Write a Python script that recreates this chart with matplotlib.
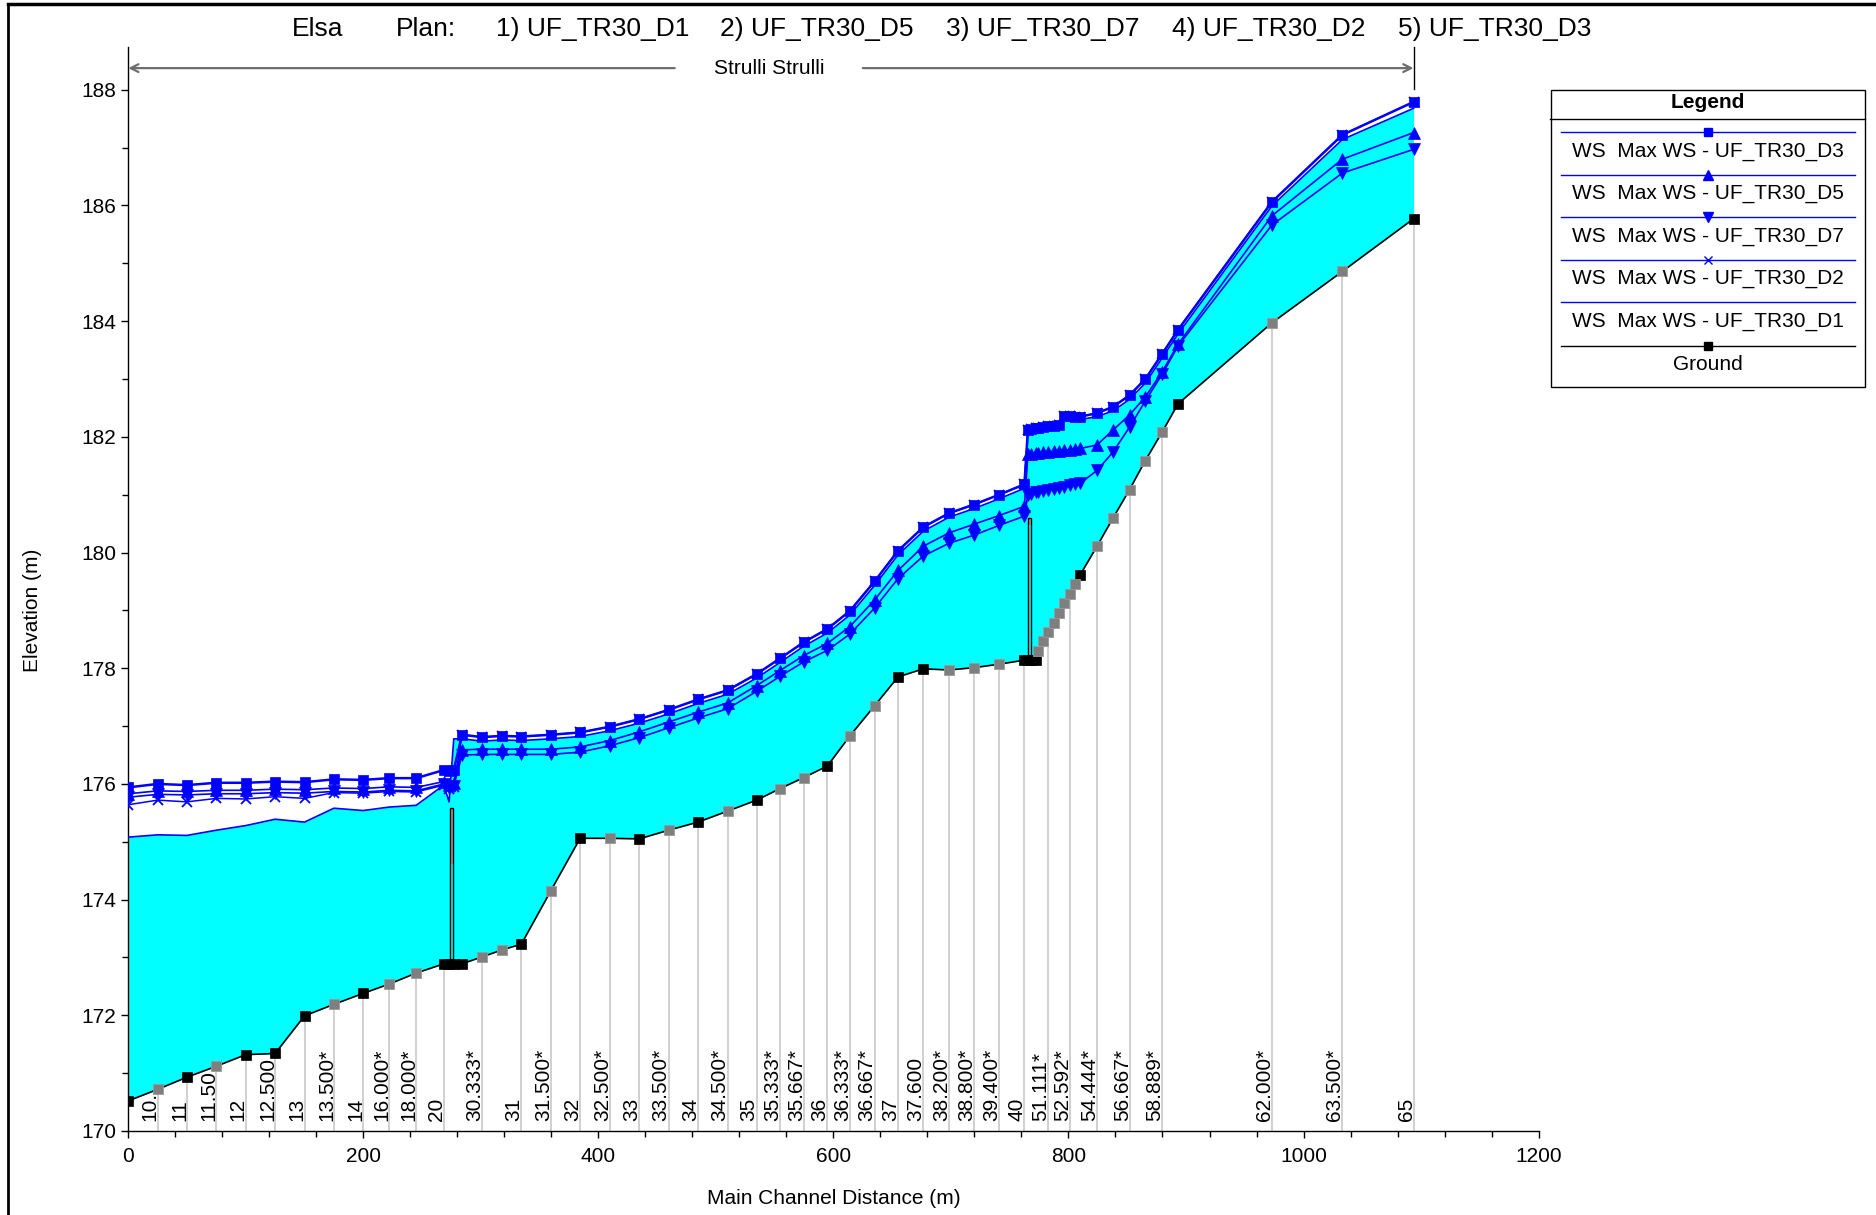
import numpy as np
import matplotlib
matplotlib.use("Agg")
import matplotlib.pyplot as plt
from matplotlib.patches import Rectangle
from matplotlib.lines import Line2D
from matplotlib.ticker import MultipleLocator

plt.rcParams['font.family'] = ['Liberation Sans', 'DejaVu Sans']

# ---------------- data ----------------
stations = [0, 25, 50, 75, 100, 125, 150, 175, 200, 222,
            245, 268.5, 273, 277, 284, 301, 318, 334.5, 359.5, 384.5,
            409.8, 434.8, 459.7, 484.8, 510, 534.7, 554.6, 574.8, 594.9, 614,
            635, 655, 676.5, 698.3, 719.6, 741, 762.5, 765.5, 768.5, 772,
            774, 778, 782.6, 787.4, 791.7, 796.5, 801, 805.6, 810.1, 824.3,
            838, 852, 865.4, 879.6, 893.2, 973, 1033, 1093.6]

ground = [170.52, 170.72, 170.93, 171.12, 171.32, 171.34, 171.99, 172.19, 172.38, 172.54,
          172.73, 172.89, 172.89, 172.89, 172.89, 173.01, 173.13, 173.23, 174.15, 175.06,
          175.06, 175.05, 175.20, 175.34, 175.53, 175.72, 175.92, 176.11, 176.31, 176.83,
          177.35, 177.85, 177.99, 177.97, 178.01, 178.07, 178.14, 178.14, 178.14, 178.14,
          178.30, 178.47, 178.63, 178.79, 178.96, 179.13, 179.29, 179.46, 179.62, 180.11,
          180.60, 181.09, 181.59, 182.08, 182.57, 183.97, 184.86, 185.77]

# 1 = surveyed cross section (black marker), 0 = interpolated (grey marker)
xs_surveyed = [1, 0, 1, 0, 1, 1, 1, 0, 1, 0,
               0, 1, 1, 1, 1, 0, 0, 1, 0, 1,
               0, 1, 0, 1, 0, 1, 0, 0, 1, 0,
               0, 1, 1, 0, 0, 0, 1, 1, 1, 1,
               0, 0, 0, 0, 0, 0, 0, 0, 1, 0,
               0, 0, 0, 0, 1, 0, 0, 1]

ws_d3 = [175.94, 176.00, 175.98, 176.02, 176.02, 176.04, 176.03, 176.08, 176.07, 176.10,
         176.10, 176.24, 176.23, 176.24, 176.85, 176.81, 176.83, 176.82, 176.85, 176.89,
         176.99, 177.12, 177.28, 177.46, 177.62, 177.90, 178.17, 178.45, 178.68, 178.99,
         179.50, 180.03, 180.44, 180.68, 180.83, 181.00, 181.18, 182.12, 182.14, 182.15,
         182.16, 182.17, 182.18, 182.19, 182.20, 182.36, 182.36, 182.35, 182.35, 182.41,
         182.52, 182.72, 183.00, 183.43, 183.85, 186.06, 187.22, 187.79]

ws_d5 = [175.83, 175.88, 175.87, 175.89, 175.89, 175.91, 175.90, 175.93, 175.92, 175.95,
         175.94, 176.04, 175.99, 176.02, 176.59, 176.60, 176.60, 176.60, 176.60, 176.64,
         176.75, 176.90, 177.07, 177.24, 177.40, 177.70, 177.96, 178.22, 178.43, 178.72,
         179.18, 179.69, 180.11, 180.34, 180.49, 180.64, 180.80, 181.70, 181.71, 181.72,
         181.72, 181.73, 181.74, 181.75, 181.76, 181.77, 181.78, 181.79, 181.80, 181.86,
         182.12, 182.38, 182.69, 183.12, 183.60, 185.82, 186.80, 187.26]

ws_d7 = [175.77, 175.82, 175.81, 175.83, 175.83, 175.85, 175.84, 175.87, 175.86, 175.89,
         175.88, 176.00, 175.93, 175.96, 176.50, 176.51, 176.51, 176.51, 176.51, 176.55,
         176.66, 176.80, 176.97, 177.14, 177.30, 177.60, 177.86, 178.11, 178.31, 178.59,
         179.04, 179.55, 179.94, 180.16, 180.30, 180.47, 180.63, 181.00, 181.02, 181.04,
         181.05, 181.07, 181.08, 181.10, 181.12, 181.14, 181.16, 181.18, 181.20, 181.42,
         181.74, 182.17, 182.62, 183.08, 183.57, 185.66, 186.56, 186.97]

ws_d2 = [175.64, 175.72, 175.69, 175.75, 175.74, 175.78, 175.75, 175.85, 175.84, 175.87,
         175.86, 175.98, 175.92, 175.95, 176.85, 176.81, 176.83, 176.82, 176.85, 176.89,
         176.99, 177.12, 177.28, 177.46, 177.62, 177.90, 178.17, 178.45, 178.68, 178.99,
         179.50, 180.03, 180.44, 180.68, 180.83, 181.00, 181.18, 182.12, 182.14, 182.15,
         182.16, 182.17, 182.18, 182.19, 182.20, 182.36, 182.36, 182.35, 182.35, 182.41,
         182.52, 182.72, 183.00, 183.43, 183.85, 186.06, 187.22, 187.79]

ws_d1 = [175.08, 175.12, 175.11, 175.20, 175.28, 175.39, 175.34, 175.58, 175.54, 175.60,
         175.63, 175.98, 175.69, 176.78, 176.78, 176.74, 176.76, 176.75, 176.78, 176.82,
         176.92, 177.05, 177.21, 177.39, 177.55, 177.83, 178.10, 178.38, 178.61, 178.92,
         179.43, 179.96, 180.37, 180.61, 180.76, 180.93, 181.11, 182.08, 182.10, 182.11,
         182.12, 182.13, 182.14, 182.15, 182.16, 182.31, 182.31, 182.30, 182.30, 182.35,
         182.45, 182.65, 182.93, 183.36, 183.78, 185.99, 187.14, 187.68]

label_text = ["10...", "11", "11.50..", "12", "12.500", "13", "13.500*", "14", "16.000*", "18.000*",
              "20", "30.333*", "31", "31.500*", "32", "32.500*", "33", "33.500*", "34", "34.500*",
              "35", "35.333*", "35.667*", "36", "36.333*", "36.667*", "37", "37.600", "38.200*", "38.800*",
              "39.400*", "40", "51.111*", "52.592*", "54.444*", "56.667*", "58.889*", "62.000*", "63.500*", "65"]
label_x = [25, 50, 75, 100, 125, 150, 175, 200, 222, 245,
           268.5, 301, 334.5, 359.5, 384.5, 409.8, 434.8, 459.7, 484.8, 510,
           534.7, 554.6, 574.8, 594.9, 614, 635, 655, 676.5, 698.3, 719.6,
           741, 762.5, 782.6, 801, 824.3, 852, 879.6, 973, 1033, 1093.6]

# bridge / culvert structures: left, right, deck bottom, top of deck
bridge_left = [273.8, 765.6]
bridge_right = [276.4, 768.5]
bridge_deck_low = [174.62, 180.47]
bridge_top = [175.59, 180.59]

title_parts = ["Elsa", "Plan:", "1) UF_TR30_D1", "2) UF_TR30_D5", "3) UF_TR30_D7",
               "4) UF_TR30_D2", "5) UF_TR30_D3"]
title_centers_px = [317.5, 426, 592.5, 817, 1043, 1268.5, 1494.5]

legend_labels = ["WS  Max WS - UF_TR30_D3", "WS  Max WS - UF_TR30_D5", "WS  Max WS - UF_TR30_D7",
                 "WS  Max WS - UF_TR30_D2", "WS  Max WS - UF_TR30_D1", "Ground"]
reach_name = "Strulli Strulli"

# ---------------- figure ----------------
W, H, DPI = 1876, 1215, 100
fig = plt.figure(figsize=(W / DPI, H / DPI), dpi=DPI)
fig.patch.set_facecolor('white')

def fx(px):
    return px / W

def fy(py):
    return 1 - py / H

AX_L, AX_R, AX_B, AX_T = 128.2, 1538.6, 1131.0, 47.0
ax = fig.add_axes([fx(AX_L), fy(AX_B), (AX_R - AX_L) / W, (AX_B - AX_T) / H])
YMIN, YMAX = 170, 188.74
ax.set_xlim(0, 1200)
ax.set_ylim(YMIN, YMAX)

st = np.array(stations)
gr = np.array(ground)
surv = np.array(xs_surveyed).astype(bool)
BLUE = '#0000FF'

# water fill (first plan)
ax.fill_between(st, gr, ws_d1, color='#00FFFF', lw=0, zorder=1)

# station lines
lx = np.array(label_x)
ax.vlines(lx, YMIN, np.interp(lx, st, gr), color='#D0D0D0', lw=1.4, zorder=0.8)

for t, x in zip(label_text, label_x):
    ax.annotate(t, xy=(x, YMIN), xytext=(1.5, 7.5), textcoords='offset points',
                rotation=90, ha='right', va='bottom', fontsize=15, color='black', zorder=2)

# bridges
for l, r, dl, tp, g in zip(bridge_left, bridge_right, bridge_deck_low, bridge_top,
                           np.interp(bridge_left, st, gr)):
    ax.add_patch(Rectangle((l, dl), r - l, tp - dl, facecolor='#A0A0A0', edgecolor='none', zorder=2))
    ax.add_patch(Rectangle((l, g), r - l, tp - g, facecolor='none', edgecolor='black', lw=1.0, zorder=2.1))

# water surfaces
ax.plot(st, ws_d1, color=BLUE, lw=1.2, zorder=3)
ax.plot(st, ws_d2, color=BLUE, lw=1.1, marker='x', ms=7.5, mew=1.3, zorder=4)
ax.plot(st, ws_d7, color=BLUE, lw=1.2, marker='v', ms=8.3, mew=0.5, zorder=5)
ax.plot(st, ws_d5, color=BLUE, lw=1.2, marker='^', ms=8.3, mew=0.5, zorder=6)
ax.plot(st, ws_d3, color=BLUE, lw=1.8, marker='s', ms=7.5, mew=0.5, zorder=7)

# ground
ax.plot(st, gr, color='black', lw=1.2, zorder=8)
ax.plot(st[surv], gr[surv], ls='none', marker='s', ms=7.2, color='black', mew=0.5, zorder=9)
ax.plot(st[~surv], gr[~surv], ls='none', marker='s', ms=7.2, color='#7F7F7F',
        mec='#9A9A9A', mew=0.6, zorder=9)

# axes styling
for s in ['top', 'right']:
    ax.spines[s].set_visible(False)
for s in ['left', 'bottom']:
    ax.spines[s].set_linewidth(1.0)
ax.xaxis.set_major_locator(MultipleLocator(200))
ax.xaxis.set_minor_locator(MultipleLocator(40))
ax.yaxis.set_major_locator(MultipleLocator(2))
ax.yaxis.set_minor_locator(MultipleLocator(1))
ax.tick_params(which='major', direction='out', length=5, width=1, labelsize=15)
ax.tick_params(which='minor', direction='out', length=4, width=1)
ax.tick_params(axis='x', which='major', pad=6.5)
ax.tick_params(axis='y', which='major', pad=3.5)

fig.text(fx(834), fy(1198), "Main Channel Distance (m)", ha='center', va='center', fontsize=15)
fig.text(fx(32), fy(610), "Elevation (m)", ha='center', va='center', rotation=90, fontsize=15)

# title
for t, c in zip(title_parts, title_centers_px):
    fig.text(fx(c), fy(29), t, ha='center', va='center', fontsize=19)

# reach arrow
y_r = 188.375
reach_mid = 545
gap = 80
ax.annotate('', xy=(stations[0], y_r), xytext=(reach_mid - gap, y_r),
            arrowprops=dict(arrowstyle='->', color='#6E6E6E', lw=1.6, shrinkA=0, shrinkB=0,
                            mutation_scale=14), annotation_clip=False)
ax.annotate('', xy=(stations[-1], y_r), xytext=(reach_mid + gap, y_r),
            arrowprops=dict(arrowstyle='->', color='#6E6E6E', lw=1.6, shrinkA=0, shrinkB=0,
                            mutation_scale=14), annotation_clip=False)
ax.text(reach_mid, y_r, reach_name, ha='center', va='center', fontsize=15)
ax.plot([stations[-1], stations[-1]], [188.01, YMAX], color='black', lw=1.0, clip_on=False)

# legend (drawn manually)
LX0, LX1, LY0, LY1 = 1550, 1865, 89.3, 387.3
lax = fig.add_axes([fx(LX0), fy(LY1), (LX1 - LX0) / W, (LY1 - LY0) / H])
lax.set_xlim(LX0, LX1)
lax.set_ylim(LY1, LY0)
lax.axis('off')
lax.add_patch(Rectangle((LX0 + 0.5, LY0 + 0.5), LX1 - LX0 - 1, LY1 - LY0 - 1, fill=False,
                        edgecolor='black', lw=1.0, clip_on=False))
lax.plot([LX0, LX1], [119.3, 119.3], color='black', lw=1.0, clip_on=False)
lax.text(1708, 102.7, "Legend", ha='center', va='center', fontsize=15, fontweight='bold')
line_y = [131.7, 174.7, 217.3, 260.0, 302.3, 345.7]
text_y = [151.7, 193.3, 236.7, 279.0, 321.7, 364.0]
styles = [dict(color=BLUE, marker='s', ms=6),
          dict(color=BLUE, marker='^', ms=6.5),
          dict(color=BLUE, marker='v', ms=6.5),
          dict(color=BLUE, marker='x', ms=6, mew=1),
          dict(color=BLUE, marker=None),
          dict(color='black', marker='s', ms=6)]
for lab, ly, ty, stl in zip(legend_labels, line_y, text_y, styles):
    m = stl.pop('marker')
    lax.plot([1560.7, 1855], [ly, ly], color=stl['color'], lw=1.0)
    if m is not None:
        lax.plot([1708], [ly], ls='none', marker=m, **stl)
    lax.text(1708, ty, lab, ha='center', va='center', fontsize=15)

# outer frame (left and top edges)
fig.add_artist(Line2D([fx(8), fx(8)], [fy(4), fy(H)], color='black', lw=2.0))
fig.add_artist(Line2D([fx(8), fx(W)], [fy(4), fy(4)], color='black', lw=2.5))

fig.savefig("out.png", dpi=DPI, facecolor='white')
